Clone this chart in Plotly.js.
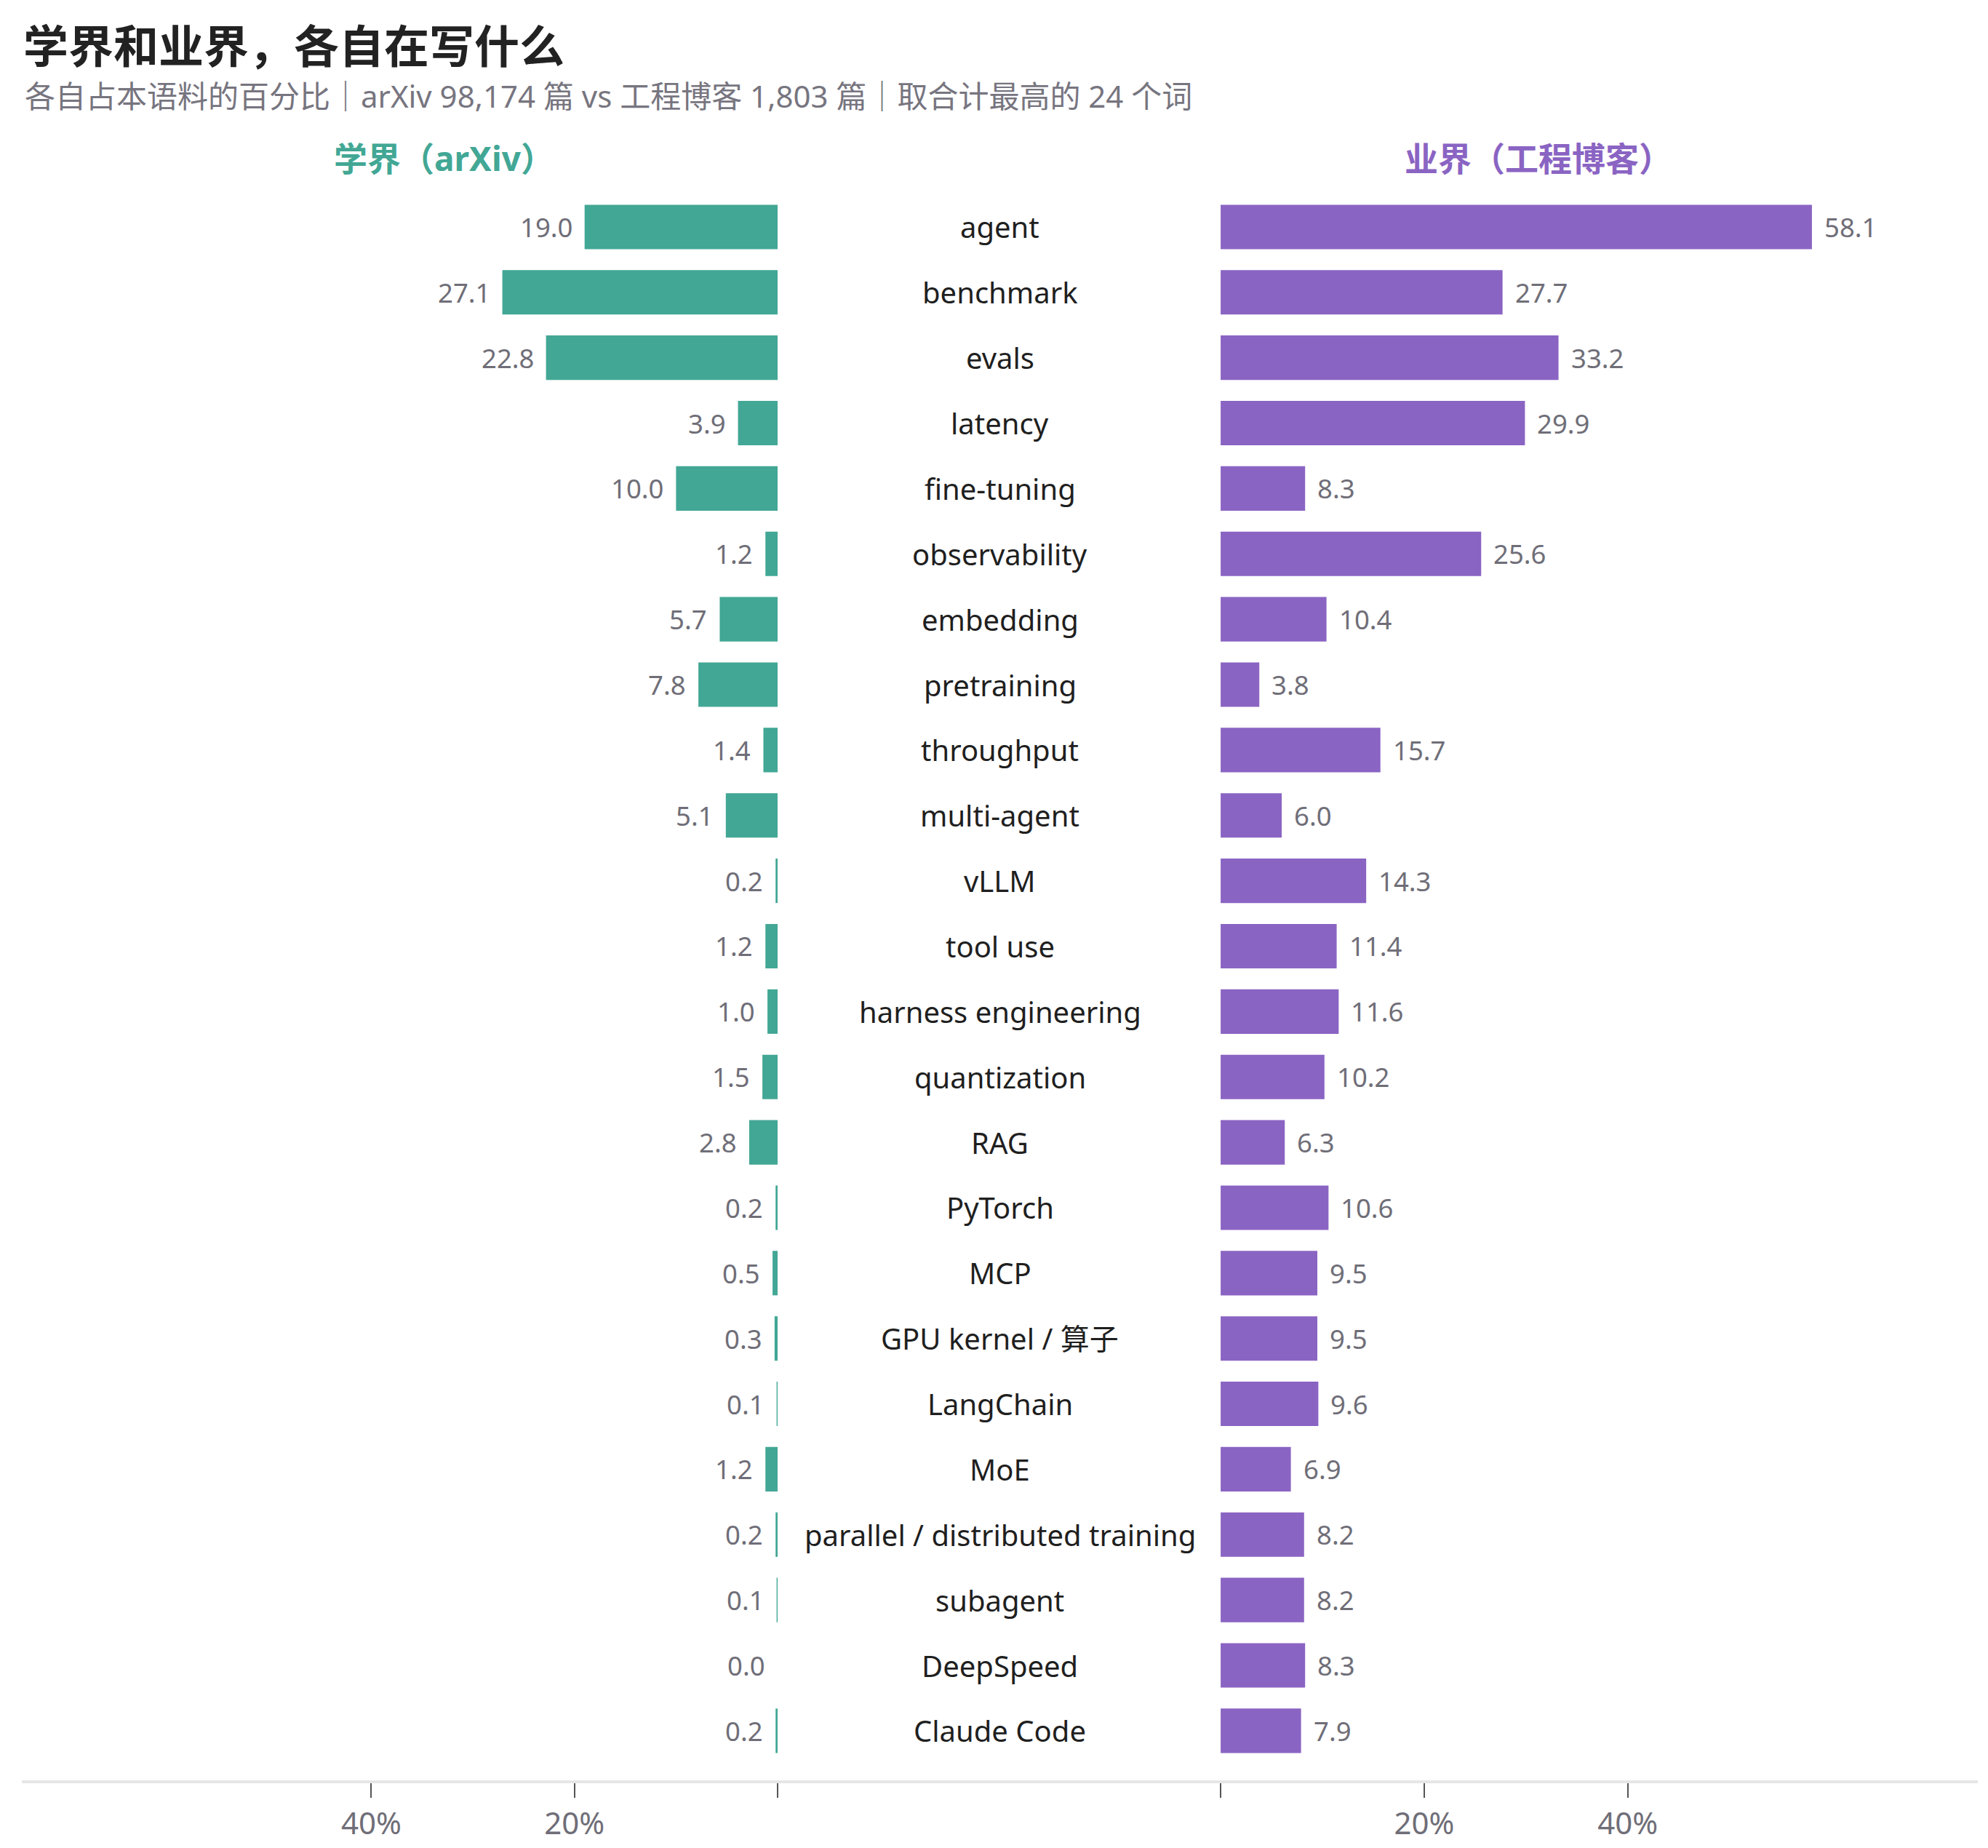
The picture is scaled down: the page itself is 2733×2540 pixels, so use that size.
<!DOCTYPE html>
<html>
<head>
<meta charset="utf-8">
<script src="https://cdn.plot.ly/plotly-3.0.1.min.js"></script>
<style>html,body{margin:0;padding:0;background:#fff;}#chart{width:2733px;height:2540px;}</style>
</head>
<body>
<div id="chart"></div>
<script>
const categories = ['agent','benchmark','evals','latency','fine-tuning','observability','embedding','pretraining','throughput','multi-agent','vLLM','tool use','harness engineering','quantization','RAG','PyTorch','MCP','GPU kernel / 算子','LangChain','MoE','parallel / distributed training','subagent','DeepSpeed','Claude Code'];
const academic = [19.0,27.1,22.8,3.9,10.0,1.2,5.7,7.8,1.4,5.1,0.2,1.2,1.0,1.5,2.8,0.2,0.5,0.3,0.1,1.2,0.2,0.1,0.0,0.2];
const industry = [58.1,27.7,33.2,29.9,8.3,25.6,10.4,3.8,15.7,6.0,14.3,11.4,11.6,10.2,6.3,10.6,9.5,9.5,9.6,6.9,8.2,8.2,8.3,7.9];
const tickVals = [0,20,40];
const tickText = ['','20%','40%'];
const titleText = '学界和业界，各自在写什么';
const subtitleText = '各自占本语料的百分比｜arXiv 98,174 篇 vs 工程博客 1,803 篇｜取合计最高的 24 个词';
const leftHeader = '学界（arXiv）';
const rightHeader = '业界（工程博客）';

const FONT = 'Noto Sans, Noto Sans CJK SC, sans-serif';
const TEAL = '#42a795';
const PURPLE = '#8a64c3';
const GREY = '#6f6e78';

const traces = [
  {type:'bar', orientation:'h', x:academic, y:categories, xaxis:'x', yaxis:'y',
   marker:{color:TEAL}, width:0.68, hoverinfo:'skip'},
  {type:'bar', orientation:'h', x:industry, y:categories, xaxis:'x2', yaxis:'y',
   marker:{color:PURPLE}, width:0.68, hoverinfo:'skip'}
];

const annotations = [];
categories.forEach((c,i) => {
  annotations.push({xref:'paper', yref:'y', x:0.5, y:c, text:c, showarrow:false,
    xanchor:'center', yanchor:'middle', font:{family:FONT, size:40, color:'#1f1f1f'}});
  annotations.push({xref:'x', yref:'y', x:academic[i], y:c, text:academic[i].toFixed(1), showarrow:false,
    xanchor:'right', yanchor:'middle', xshift:-15, font:{family:FONT, size:36.5, color:GREY}});
  annotations.push({xref:'x2', yref:'y', x:industry[i], y:c, text:industry[i].toFixed(1), showarrow:false,
    xanchor:'left', yanchor:'middle', xshift:15, font:{family:FONT, size:36.5, color:GREY}});
});
annotations.push({xref:'paper', yref:'paper', x:0.2157, y:1.0229, text:'<b>'+leftHeader+'</b>', showarrow:false,
  xanchor:'center', yanchor:'middle', font:{family:FONT, size:46, color:TEAL}});
annotations.push({xref:'paper', yref:'paper', x:0.7754, y:1.0229, text:'<b>'+rightHeader+'</b>', showarrow:false,
  xanchor:'center', yanchor:'middle', font:{family:FONT, size:46, color:PURPLE}});
annotations.push({xref:'paper', yref:'paper', x:0.0007, y:1.0623, text:subtitleText, showarrow:false,
  xanchor:'left', yanchor:'middle', font:{family:FONT, size:42, color:'#77757f'}});

const axisCommon = {
  tickmode:'array', tickvals:tickVals, ticktext:tickText,
  ticks:'outside', ticklen:21, tickwidth:2, tickcolor:'#555',
  showgrid:false, zeroline:false, showline:false,
  tickfont:{family:FONT, size:42, color:GREY},
  ticklabelstandoff:0, fixedrange:true
};

const layout = {
  width:2733, height:2540,
  margin:{l:30, r:14, t:267, b:91},
  paper_bgcolor:'#fff', plot_bgcolor:'#fff',
  showlegend:false,
  title:{text:'<b>'+titleText+'</b>', xref:'container', yref:'container', x:32/2733, y:1-65/2540,
    xanchor:'left', yanchor:'middle', font:{family:FONT, size:62, color:'#222'}},
  xaxis:Object.assign({}, axisCommon, {domain:[0, 0.3864], range:[74.4, 0]}),
  xaxis2:Object.assign({}, axisCommon, {domain:[0.6129, 1], range:[0, 74.4], anchor:'y'}),
  yaxis:{type:'category', categoryarray:categories, categoryorder:'array', range:[23.78, -0.5],
    showticklabels:false, showgrid:false, zeroline:false, showline:false, ticks:'', fixedrange:true},
  shapes:[{type:'line', xref:'paper', yref:'paper', x0:0, x1:1, y0:0, y1:0,
    line:{color:'#e6e6e6', width:4}}],
  annotations:annotations,
  bargap:0.3
};

Plotly.newPlot('chart', traces, layout, {displayModeBar:false, staticPlot:true});
</script>
</body>
</html>
